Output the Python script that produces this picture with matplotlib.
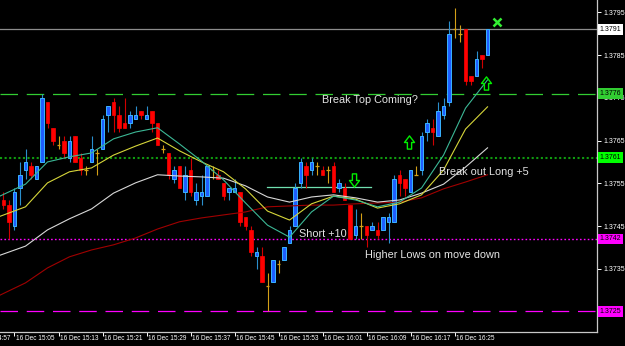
import matplotlib
matplotlib.use("Agg")
import matplotlib.pyplot as plt
from matplotlib.path import Path
from matplotlib.transforms import blended_transform_factory

plt.rcParams['font.family'] = ['Liberation Sans', 'DejaVu Sans']

# one-minute bars, bar 0 = 16 Dec 15:05
first_bar = -2

bar_open = [
    1.3751, 1.3750, 1.3745, 1.3754, 1.3758, 1.3759, 1.3756, 1.3760, 1.3774, 1.3768,
    1.3764, 1.3765, 1.3761, 1.3766, 1.3761, 1.3758, 1.3760, 1.3762, 1.3763, 1.3771,
    1.3774, 1.3771, 1.3769, 1.3769, 1.3770, 1.3772, 1.3770, 1.3772, 1.3769, 1.3763,
    1.3762, 1.3756, 1.3759, 1.3753, 1.3758, 1.3751, 1.3752, 1.3752, 1.3758, 1.3757,
    1.3755, 1.3753, 1.3753, 1.3753, 1.3747, 1.3744, 1.3738, 1.3738, 1.3731, 1.3732,
    1.3736, 1.3737, 1.3741, 1.3745, 1.3755, 1.3759, 1.3758, 1.3759, 1.3758, 1.3758,
    1.3759, 1.3754, 1.3754, 1.3750, 1.3743, 1.3745, 1.3745, 1.3744, 1.3744, 1.3744,
    1.3746, 1.3746, 1.3757, 1.3756, 1.3753, 1.3757, 1.3758, 1.3767, 1.3768, 1.3766,
    1.3771, 1.3774, 1.3791, 1.3790, 1.3791, 1.3780, 1.3780, 1.3785, 1.3785,
]
bar_high = [
    1.3753, 1.3751, 1.3754, 1.3760, 1.3763, 1.3760, 1.3759, 1.3776, 1.3774, 1.3768,
    1.3766, 1.3766, 1.3766, 1.3766, 1.3762, 1.3759, 1.3766, 1.3763, 1.3771, 1.3773,
    1.3775, 1.3773, 1.3775, 1.3772, 1.3773, 1.3772, 1.3773, 1.3772, 1.3769, 1.3764,
    1.3762, 1.3759, 1.3759, 1.3759, 1.3761, 1.3755, 1.3757, 1.3759, 1.3759, 1.3758,
    1.3755, 1.3754, 1.3756, 1.3753, 1.3747, 1.3745, 1.3740, 1.3740, 1.3734, 1.3737,
    1.3737, 1.3740, 1.3745, 1.3755, 1.3761, 1.3760, 1.3761, 1.3760, 1.3759, 1.3759,
    1.3760, 1.3756, 1.3755, 1.3750, 1.3749, 1.3748, 1.3745, 1.3746, 1.3746, 1.3747,
    1.3748, 1.3757, 1.3758, 1.3756, 1.3758, 1.3759, 1.3767, 1.3770, 1.3770, 1.3774,
    1.3775, 1.3793, 1.3796, 1.3792, 1.3791, 1.3780, 1.3786, 1.3785, 1.3791,
]
bar_low = [
    1.3749, 1.3742, 1.3744, 1.3750, 1.3756, 1.3756, 1.3756, 1.3760, 1.3768, 1.3764,
    1.3763, 1.3761, 1.3760, 1.3760, 1.3757, 1.3757, 1.3760, 1.3757, 1.3763, 1.3767,
    1.3767, 1.3767, 1.3768, 1.3768, 1.3770, 1.3770, 1.3770, 1.3767, 1.3764, 1.3762,
    1.3756, 1.3755, 1.3754, 1.3751, 1.3752, 1.3750, 1.3750, 1.3752, 1.3756, 1.3756,
    1.3751, 1.3751, 1.3753, 1.3745, 1.3744, 1.3738, 1.3735, 1.3732, 1.3725, 1.3732,
    1.3734, 1.3737, 1.3741, 1.3745, 1.3754, 1.3754, 1.3757, 1.3757, 1.3757, 1.3755,
    1.3753, 1.3753, 1.3751, 1.3742, 1.3742, 1.3742, 1.3740, 1.3744, 1.3742, 1.3744,
    1.3741, 1.3746, 1.3752, 1.3752, 1.3753, 1.3757, 1.3757, 1.3765, 1.3764, 1.3766,
    1.3770, 1.3773, 1.3789, 1.3788, 1.3778, 1.3778, 1.3780, 1.3782, 1.3785,
]
bar_close = [
    1.3750, 1.3746, 1.3753, 1.3757, 1.3760, 1.3757, 1.3759, 1.3775, 1.3769, 1.3765,
    1.3764, 1.3762, 1.3765, 1.3760, 1.3758, 1.3758, 1.3763, 1.3762, 1.3770, 1.3773,
    1.3771, 1.3768, 1.3768, 1.3771, 1.3771, 1.3771, 1.3771, 1.3769, 1.3764, 1.3763,
    1.3757, 1.3758, 1.3754, 1.3757, 1.3753, 1.3753, 1.3753, 1.3759, 1.3758, 1.3756,
    1.3752, 1.3754, 1.3754, 1.3746, 1.3745, 1.3739, 1.3739, 1.3732, 1.3731, 1.3737,
    1.3736, 1.3740, 1.3744, 1.3754, 1.3760, 1.3757, 1.3760, 1.3759, 1.3757, 1.3758,
    1.3753, 1.3755, 1.3751, 1.3742, 1.3745, 1.3745, 1.3743, 1.3745, 1.3743, 1.3747,
    1.3747, 1.3756, 1.3755, 1.3754, 1.3758, 1.3757, 1.3766, 1.3769, 1.3767, 1.3772,
    1.3773, 1.3790, 1.3791, 1.3790, 1.3779, 1.3779, 1.3784, 1.3784, 1.3791,
]

# moving averages at these bars
ma_idx = [-3, 2, 6, 10, 14, 18, 22, 26, 30, 34, 38, 42, 46, 50, 54, 58, 62, 66, 70, 74, 78, 82, 86]
ma_fast = [1.37518, 1.37548, 1.37600, 1.37612, 1.37621, 1.37654, 1.37670, 1.37680, 1.37642, 1.37602,
           1.37558, 1.37504, 1.37452, 1.37424, 1.37483, 1.37520, 1.37511, 1.37495, 1.37506, 1.37539,
           1.37616, 1.37726, 1.37792]
ma_mid = [1.37471, 1.37495, 1.37551, 1.37577, 1.37586, 1.37616, 1.37637, 1.37656, 1.37626, 1.37600,
          1.37577, 1.37537, 1.37485, 1.37464, 1.37502, 1.37520, 1.37513, 1.37492, 1.37502, 1.37523,
          1.37581, 1.37677, 1.37729]
ma_slow = [1.37380, 1.37403, 1.37441, 1.37467, 1.37490, 1.37527, 1.37551, 1.37570, 1.37567, 1.37565,
           1.37562, 1.37544, 1.37518, 1.37506, 1.37518, 1.37523, 1.37516, 1.37506, 1.37511, 1.37527,
           1.37548, 1.37588, 1.37633]
ma_long = [1.37286, 1.37317, 1.37352, 1.37378, 1.37394, 1.37406, 1.37422, 1.37443, 1.37460, 1.37469,
           1.37476, 1.37483, 1.37495, 1.37497, 1.37499, 1.37499, 1.37502, 1.37504, 1.37506, 1.37516,
           1.37537, 1.37553, 1.37570]

# horizontal levels
level_price = [1.3791, 1.3776, 1.3761, 1.3742, 1.3725]
level_color = ['#8c8c8c', '#32cd32', '#109a10', '#ff00ff', '#ff00ff']
level_box = ['#ffffff', '#32cd32', '#00ff00', '#ff00ff', '#ff00ff']
level_style = ['-', (0, (14, 7)), (0, (1, 1.2)), (0, (1.2, 1.6)), (0, (14, 7))]
level_width = [0.9, 0.9, 1.5, 1.0, 0.9]

trend_x = [45.9, 64.8]
trend_y = [1.37541, 1.37541]

price_ticks = [1.3795, 1.3785, 1.3775, 1.3765, 1.3755, 1.3745, 1.3735, 1.3725]
time_ticks = [-8, 0, 8, 16, 24, 32, 40, 48, 56, 64, 72, 80]
time_labels = ['16 Dec 14:57', '16 Dec 15:05', '16 Dec 15:13', '16 Dec 15:21', '16 Dec 15:29',
               '16 Dec 15:37', '16 Dec 15:45', '16 Dec 15:53', '16 Dec 16:01', '16 Dec 16:09',
               '16 Dec 16:17', '16 Dec 16:25']

notes = ['Break Top Coming?', 'Break out Long +5', 'Short +10', 'Higher Lows on move down']
note_x = [55.9, 77.2, 51.7, 63.7]
note_y = [1.37746, 1.37577, 1.37431, 1.37382]

up_arrow_x = [71.7, 85.7]
up_arrow_y = [1.37647, 1.37785]
down_arrow_x = [61.7]
down_arrow_y = [1.37558]
cross_x = [87.7]
cross_y = [1.37928]

fig = plt.figure(figsize=(6.25, 3.46), dpi=100, facecolor='black')
ax = fig.add_axes([0, 14 / 346, 597 / 625, 332 / 346], facecolor='black')
ax.set_xlim(-2.636, 105.9)
ax.set_ylim(1.37202, 1.37979)

for p, col, st, w in zip(level_price, level_color, level_style, level_width):
    ax.axhline(p, color=col, ls=st, lw=w, zorder=1)
ax.plot(trend_x, trend_y, color='#70e0b0', lw=0.9, zorder=1.5)

# candles
idx = list(range(first_bar, first_bar + len(bar_open)))
for i, o, h, l, c in zip(idx, bar_open, bar_high, bar_low, bar_close):
    if abs(c - o) < 1e-6:
        ax.vlines(i, l, h, color='#d4a017', lw=0.8, zorder=2)
        ax.hlines(o, i - 0.35, i + 0.35, color='#d4a017', lw=0.9, zorder=2)
        continue
    if c > o:
        ax.vlines(i, l, h, color='#2a8fcc', lw=0.8, zorder=2)
        ax.bar(i, c - o, bottom=o, width=0.7, color='#1e5eff', edgecolor='#3ab4ff', lw=0.7, zorder=2.5)
    else:
        ax.vlines(i, l, h, color='#d00000', lw=0.8, zorder=2)
        ax.bar(i, o - c, bottom=c, width=0.7, color='#ff0000', edgecolor='#ff0000', lw=0.5, zorder=2.5)

ax.plot(ma_idx, ma_long, color='#a00000', lw=0.8, zorder=3)
ax.plot(ma_idx, ma_slow, color='#d8d8d8', lw=0.8, zorder=3)
ax.plot(ma_idx, ma_mid, color='#d6d63a', lw=0.8, zorder=3)
ax.plot(ma_idx, ma_fast, color='#3cb896', lw=0.8, zorder=3)

# arrows
up_path = Path([(-0.16, -0.5), (0.16, -0.5), (0.16, 0.0), (0.38, 0.0), (0, 0.5),
                (-0.38, 0.0), (-0.16, 0.0), (-0.16, -0.5)], closed=True)
down_path = Path([(x, -y) for x, y in up_path.vertices], closed=True)
ax.plot(up_arrow_x, up_arrow_y, ls='none', marker=up_path, ms=9.5, mfc='none',
        mec='#00ee00', mew=1.0, zorder=6)
ax.plot(down_arrow_x, down_arrow_y, ls='none', marker=down_path, ms=9.5, mfc='none',
        mec='#00ee00', mew=1.0, zorder=6)
ax.plot(cross_x, cross_y, ls='none', marker='x', ms=5.5, mec='#33ee33', mew=1.8, zorder=6)

for t, x, y in zip(notes, note_x, note_y):
    ax.text(x, y, t, color='#e4e4e4', fontsize=7.8, ha='left', va='center', zorder=7)

# axes frame
for side in ['left', 'top']:
    ax.spines[side].set_visible(False)
for side in ['right', 'bottom']:
    ax.spines[side].set_color('#c8c8c8')
    ax.spines[side].set_linewidth(0.9)

ax.yaxis.tick_right()
ax.set_yticks(price_ticks)
# the lowest tick label sits under the 1.3725 level box
ax.set_yticklabels([f'{p:.4f}' if p != 1.3725 else '' for p in price_ticks])
ax.tick_params(axis='y', colors='white', labelsize=5, length=3, width=0.7, pad=1.5)

ax.set_xticks(time_ticks[1:])
ax.set_xticklabels([])
ax.tick_params(axis='x', colors='white', length=3, width=0.7)
tb = blended_transform_factory(ax.transData, ax.transAxes)
for t, lab in zip(time_ticks, time_labels):
    ax.text(t + 0.2, -0.02, lab, transform=tb, color='white', fontsize=4.7,
            ha='left', va='center', clip_on=False)

# price labels of the levels
tr = blended_transform_factory(ax.transAxes, ax.transData)
for p, bc in zip(level_price, level_box):
    ax.text(1.004, p, f'{p:.4f}', transform=tr, color='black', fontsize=5, ha='left',
            va='center', clip_on=False, zorder=10,
            bbox=dict(boxstyle='square,pad=0.25', fc=bc, ec='none'))

fig.savefig('out.png', dpi=100, facecolor='black')
